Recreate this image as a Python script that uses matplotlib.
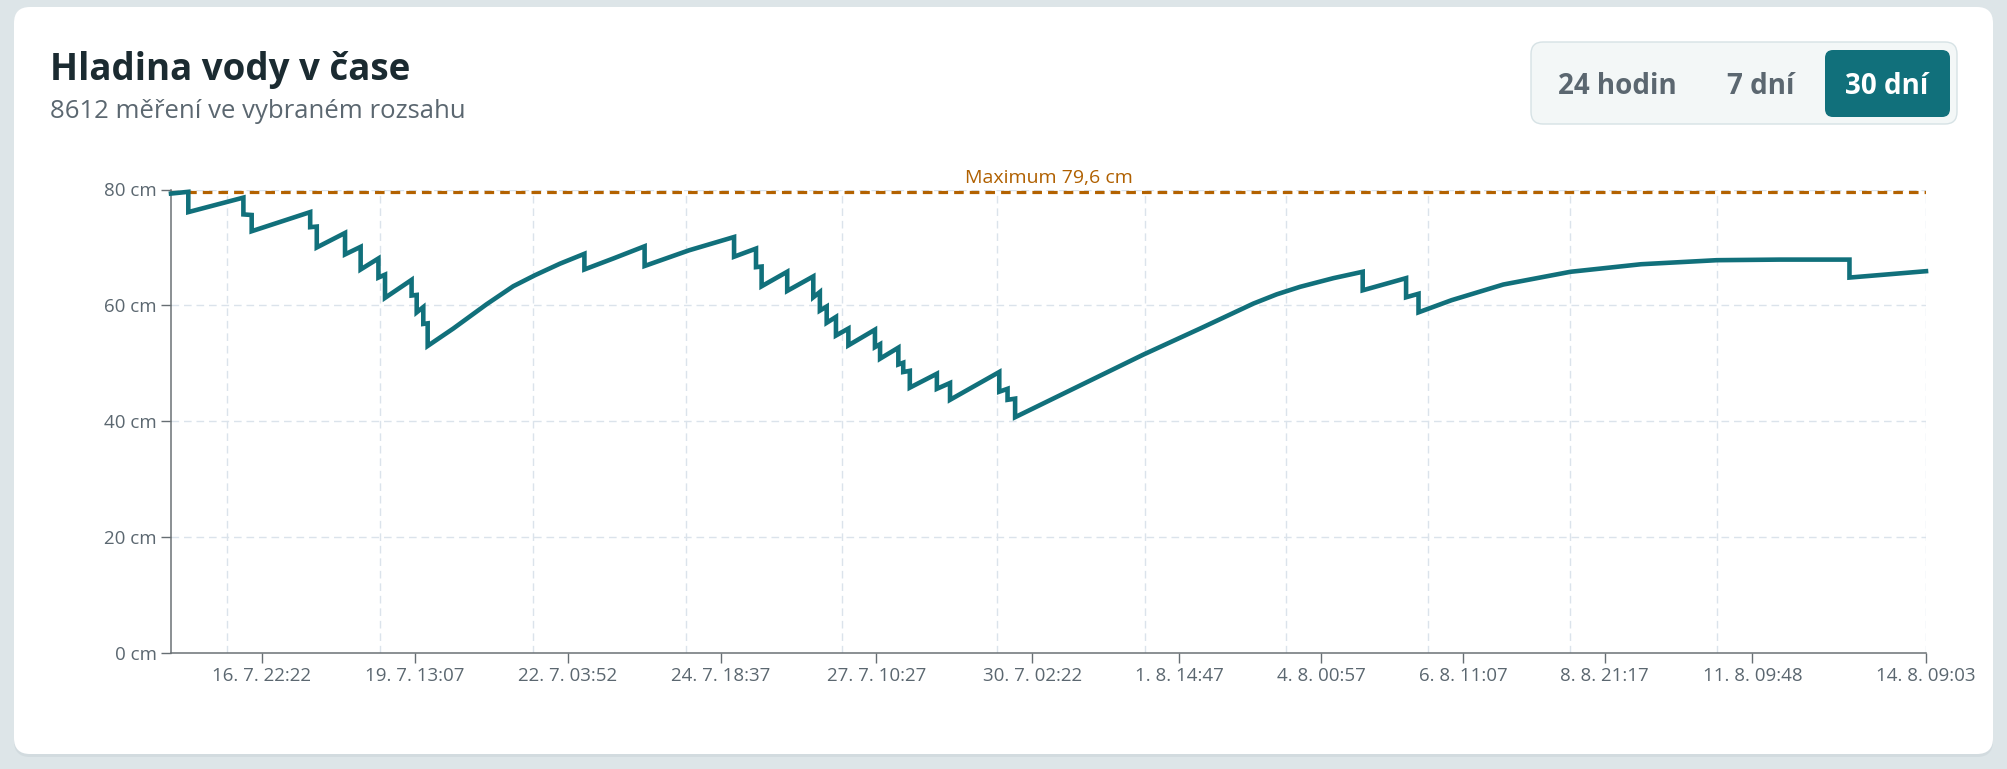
import matplotlib
matplotlib.use('Agg')
import matplotlib.pyplot as plt
from matplotlib.patches import FancyBboxPatch
from datetime import datetime, timedelta

plt.rcParams['font.family'] = ['Open Sans', 'Noto Sans', 'DejaVu Sans']

t_start = datetime(2025, 7, 15, 9, 3)
hours = [
    0, 7.1, 7.1, 29.7, 29.7, 33.1, 33.1,
    57.1, 57.1, 59.8, 59.8, 71.4, 71.4, 77.8, 77.8,
    85.1, 85.1, 87.8, 87.8, 98.7, 98.7, 100.8, 100.8,
    103.5, 103.5, 105.3, 105.3,
    115.8, 129.5, 140.4, 149.3, 159.6, 169.6, 169.6, 181.5, 194.3, 194.3,
    212.5, 231.0, 231.0,
    240.0, 240.0, 242.3, 242.3, 252.8, 252.8, 263.5, 263.5, 266.2, 266.2,
    269.0, 269.0, 272.8, 272.8, 277.9, 277.9, 288.8, 288.8, 290.9, 290.9,
    298.4, 298.4, 300.4, 300.4, 303.1, 303.1, 314.2, 314.2, 319.6, 319.6,
    339.8, 339.8, 343.2, 343.2, 346.3, 346.3,
    398.9, 422.2, 444.0, 453.6, 463.2, 476.9, 488.9, 488.9,
    506.7, 506.7, 511.8, 511.8,
    525.4, 546.6, 574.2, 603.1, 634.2, 660.0, 688.6, 688.6, 720]
level = [
    79.3, 79.6, 76.1, 78.6, 75.7, 75.6, 72.8,
    76.1, 73.5, 73.6, 70.0, 72.5, 68.8, 70.1, 66.2,
    68.1, 64.8, 65.3, 61.3, 64.4, 61.7, 61.8, 58.8,
    59.7, 56.8, 56.9, 53.0,
    56.0, 60.2, 63.3, 65.2, 67.2, 68.9, 66.2, 68.1, 70.2, 66.8,
    69.5, 71.8, 68.4,
    69.8, 66.6, 66.7, 63.3, 65.8, 62.5, 65.0, 61.4, 62.3, 59.1,
    59.8, 57.0, 58.0, 54.8, 56.0, 53.1, 55.8, 52.8, 53.3, 50.8,
    52.7, 49.8, 50.1, 48.5, 48.7, 45.8, 48.2, 45.6, 46.6, 43.7,
    48.5, 45.1, 45.6, 43.7, 43.9, 40.7,
    51.5, 56.0, 60.3, 61.9, 63.2, 64.7, 65.8, 62.6,
    64.7, 61.4, 62.0, 58.8,
    60.9, 63.6, 65.8, 67.1, 67.8, 67.9, 67.9, 64.8, 65.9]

tick_times = [datetime(2025, 7, 16, 22, 22), datetime(2025, 7, 19, 13, 7),
              datetime(2025, 7, 22, 3, 52), datetime(2025, 7, 24, 18, 37),
              datetime(2025, 7, 27, 10, 27), datetime(2025, 7, 30, 2, 22),
              datetime(2025, 8, 1, 14, 47), datetime(2025, 8, 4, 0, 57),
              datetime(2025, 8, 6, 11, 7), datetime(2025, 8, 8, 21, 17),
              datetime(2025, 8, 11, 9, 48), datetime(2025, 8, 14, 9, 3)]
tick_labels = ['16. 7. 22:22', '19. 7. 13:07', '22. 7. 03:52', '24. 7. 18:37',
               '27. 7. 10:27', '30. 7. 02:22', '1. 8. 14:47', '4. 8. 00:57',
               '6. 8. 11:07', '8. 8. 21:17', '11. 8. 09:48', '14. 8. 09:03']
y_ticks = [0, 20, 40, 60, 80]
y_tick_labels = ['0 cm', '20 cm', '40 cm', '60 cm', '80 cm']
max_level = 79.6
n_measurements = 8612
ranges = ['24 hodin', '7 dní', '30 dní']
active_range = '30 dní'

teal = '#11707b'
brown = '#b36200'
grey_txt = '#5b6770'
grid_c = '#dbe3eb'

times = [t_start + timedelta(hours=h) for h in hours]
t_end = t_start + timedelta(hours=720)
# vertical grid sits a bit before each tick, last one on the right edge
grid_times = [t - timedelta(hours=14.3) for t in tick_times[:-1]] + [t_end]

fig = plt.figure(figsize=(20.07, 7.69), dpi=100)
fig.patch.set_facecolor('#dde5e8')

# card + header drawn in pixel coordinates
bg = fig.add_axes([0, 0, 1, 1])
bg.set_xlim(0, 2007)
bg.set_ylim(769, 0)
bg.axis('off')
bg.add_patch(FancyBboxPatch((14, 9), 1979, 748, boxstyle='round,pad=0,rounding_size=16',
                            fc='#d2dbdf', ec='none'))
bg.add_patch(FancyBboxPatch((14, 7), 1979, 747, boxstyle='round,pad=0,rounding_size=16',
                            fc='white', ec='none'))
bg.text(50, 80, 'Hladina vody v čase', fontsize=26.5, fontweight='bold',
        color='#1b2b31', va='baseline')
bg.text(50, 118, f'{n_measurements} měření ve vybraném rozsahu', fontsize=18.5,
        color=grey_txt, va='baseline')

bg.add_patch(FancyBboxPatch((1531, 42), 426, 82, boxstyle='round,pad=0,rounding_size=12',
                            fc='#f3f7f7', ec='#d6e2e5', lw=1))
btn_x = [1617, 1761, 1887]
for name, cx in zip(ranges, btn_x):
    if name == active_range:
        bg.add_patch(FancyBboxPatch((1825, 50), 125, 67,
                                    boxstyle='round,pad=0,rounding_size=8',
                                    fc=teal, ec='none'))
        col = 'white'
    else:
        col = grey_txt
    bg.text(cx, 94, name, fontsize=20, fontweight='bold', color=col,
            ha='center', va='baseline')

ax = fig.add_axes([171 / 2007, 116 / 769, 1755 / 2007, 463.5 / 769])
ax.patch.set_alpha(0)

for g in grid_times:
    ax.axvline(g, color=grid_c, lw=1, ls=(0, (5.5, 3.5)), zorder=1)
for y in y_ticks[1:]:
    ax.axhline(y, color=grid_c, lw=1, ls=(0, (5.5, 3.5)), zorder=1)

ax.axhline(max_level, color=brown, lw=2.3, ls=(0, (3.0, 1.9)), zorder=3)
ax.annotate(f'Maximum {max_level:.1f} cm'.replace('.', ','), xy=(0.5, max_level),
            xycoords=('axes fraction', 'data'), xytext=(0, 6.5),
            textcoords='offset points', ha='center', va='baseline',
            fontsize=14, color='#b06000')

ax.plot(times, level, color=teal, lw=3.3, solid_joinstyle='miter', zorder=4, clip_on=False)

ax.set_xlim(t_start, t_end)
ax.set_ylim(0, 80)
ax.set_xticks(tick_times)
ax.set_xticklabels(tick_labels)
ax.set_yticks(y_ticks)
ax.set_yticklabels(y_tick_labels)
ax.tick_params(length=7, width=1, color='#666e73', labelsize=13.5,
               labelcolor=grey_txt, pad=3)
for s in ['top', 'right']:
    ax.spines[s].set_visible(False)
for s in ['left', 'bottom']:
    ax.spines[s].set_color('#6b7175')
    ax.spines[s].set_linewidth(1.1)

fig.savefig('out.png', dpi=100, facecolor=fig.get_facecolor())
